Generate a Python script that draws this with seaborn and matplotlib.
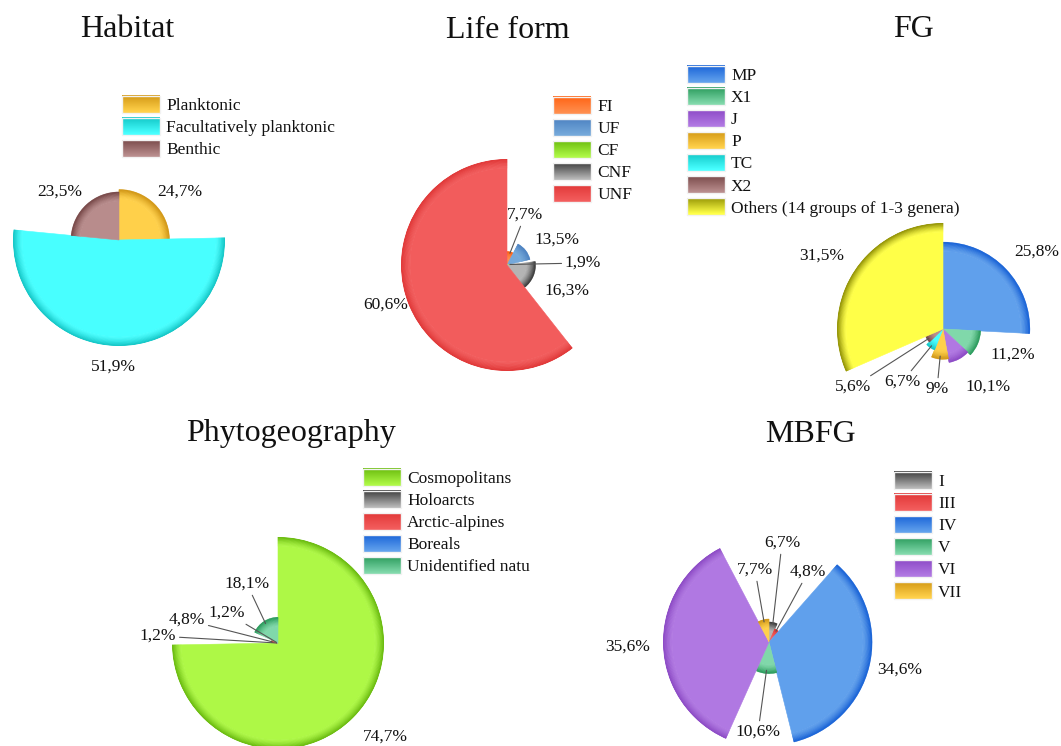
import numpy as np
import matplotlib
matplotlib.use("Agg")
import matplotlib.pyplot as plt
from matplotlib.colors import to_rgb
from matplotlib.patches import Rectangle
from matplotlib.legend_handler import HandlerBase
from matplotlib.transforms import Bbox, TransformedBbox
import seaborn as sns

# ---------------- data ----------------
habitat_labels = ["Planktonic", "Facultatively planktonic", "Benthic"]
habitat_values = [24.7, 51.9, 23.5]

lifeform_labels = ["FI", "UF", "CF", "CNF", "UNF"]
lifeform_values = [7.7, 13.5, 1.9, 16.3, 60.6]

fg_labels = ["MP", "X1", "J", "P", "TC", "X2", "Others (14 groups of 1-3 genera)"]
fg_values = [25.8, 11.2, 10.1, 9.0, 6.7, 5.6, 31.5]

phyto_labels = ["Cosmopolitans", "Holoarcts", "Arctic-alpines", "Boreals",
                "Unidentified nature"]
phyto_values = [74.7, 1.2, 4.8, 1.2, 18.1]

mbfg_labels = ["I", "III", "IV", "V", "VI", "VII"]
mbfg_values = [6.7, 4.8, 34.6, 10.6, 35.6, 7.7]

# ---------------- styles ----------------
# (dark rim colour, light body colour)
GOLD = ("#D09512", "#FFD04A")
CYAN = ("#0FC4C4", "#48FFFF")
ROSE = ("#744444", "#B88C8C")
ORANGE = ("#FF6010", "#FF8E4E")
STEEL = ("#4A80C0", "#74A8DA")
LIME = ("#66B80A", "#AEF846")
GREY = ("#353535", "#B4B4B4")
RED = ("#E03434", "#F25C5C")
BLUE = ("#145FD6", "#60A0EC")
GREEN = ("#269858", "#80D8AA")
PURPLE = ("#8A46C4", "#B078E2")
OLIVE = ("#8E8E00", "#FFFF48")

habitat_colors = [GOLD, CYAN, ROSE]
lifeform_colors = [ORANGE, STEEL, LIME, GREY, RED]
fg_colors = [BLUE, GREEN, PURPLE, GOLD, CYAN, ROSE, OLIVE]
phyto_colors = [LIME, GREY, RED, BLUE, GREEN]
mbfg_colors = [GREY, RED, BLUE, GREEN, PURPLE, GOLD]

sns.set_theme(style="white")
plt.rcParams["font.family"] = ["Liberation Serif", "DejaVu Serif"]

W, H = 1061, 746
DPI = 100
R = 106          # radius (px) of the largest slice in every pie
FS = 12.5        # label / legend font size

fig = plt.figure(figsize=(W / DPI, H / DPI), dpi=DPI)
fig.patch.set_facecolor("white")


def mix(a, b, t):
    return tuple(np.array(to_rgb(a)) * (1 - t) + np.array(to_rgb(b)) * t)


def pct(v):
    return f"{v:g}".replace(".", ",") + "%"


class GradientHandler(HandlerBase):
    """Legend key drawn as a vertical dark-to-light gradient box."""

    def create_artists(self, legend, orig_handle, xdescent, ydescent,
                       width, height, fontsize, trans):
        dark, light = orig_handle.grad
        n = 16
        arts = []
        x0, y0 = -xdescent, -ydescent
        for i in range(n):
            t = 0.12 + 0.88 * i / (n - 1)
            yb = y0 + height * (1 - (i + 1) / n)
            arts.append(Rectangle((x0, yb), width, height / n + 0.4,
                                  facecolor=mix(dark, light, t),
                                  edgecolor="none", transform=trans))
        arts.append(Rectangle((x0, y0), width, height, fill=False,
                              edgecolor="#f2f2f2", lw=1.0, transform=trans))
        return arts


def draw_chart(title, title_xy, center, labels, values, colors,
               label_offsets, leaders, legend_xy, clip_x=None):
    cx, cy = center
    ax = fig.add_axes([(cx - R) / W, (H - cy - R) / H, 2 * R / W, 2 * R / H],
                      projection="polar")
    ax.set_theta_zero_location("N")
    ax.set_theta_direction(-1)
    vals = np.asarray(values, dtype=float)
    widths = vals / vals.sum() * 2 * np.pi
    starts = np.concatenate([[0.0], np.cumsum(widths)[:-1]])
    vmax = vals.max()
    nring = 12
    for s, w, v, (dark, light) in zip(starts, widths, vals, colors):
        rim = min(0.085 * vmax, 0.55 * v)
        # light body of the slice
        body = v - rim
        ax.bar(s, body, width=w, bottom=0.0, align="edge",
               color=light, edgecolor=light, linewidth=0.4)
        # rings shading towards a darker rim
        for k in range(nring):
            lo = body + rim * k / nring
            col = mix(light, dark, ((k + 0.5) / nring) ** 1.4)
            ax.bar(s, rim / nring, width=w, bottom=lo, align="edge",
                   color=col, edgecolor=col, linewidth=0.4)
    ax.set_ylim(0, vmax)
    ax.axis("off")

    # value labels (with leader lines for the small slices)
    for s, w, v, (dx, dy), lead in zip(starts, widths, vals,
                                         label_offsets, leaders):
        fx = 0.5 + dx / (2 * R)
        fy = 0.5 - dy / (2 * R)
        if lead:
            ax.annotate(pct(v), xy=(s + w / 2, v * 0.9), xycoords="data",
                        xytext=(fx, fy), textcoords="axes fraction",
                        ha="center", va="center", fontsize=FS,
                        color="#111111", annotation_clip=False,
                        arrowprops=dict(arrowstyle="-", color="#555555",
                                        lw=0.8, shrinkA=0, shrinkB=0))
        else:
            ax.text(fx, fy, pct(v), transform=ax.transAxes, ha="center",
                    va="center", fontsize=FS, color="#111111")

    fig.text(title_xy[0] / W, 1 - title_xy[1] / H, title, ha="center",
             va="baseline", fontsize=23, color="#111111")

    handles = []
    for (dark, light) in colors:
        h = Rectangle((0, 0), 1, 1)
        h.grad = (dark, light)
        handles.append(h)
    leg = fig.legend(handles, labels, loc="upper left",
                     bbox_to_anchor=(legend_xy[0] / W, 1 - legend_xy[1] / H),
                     frameon=False, fontsize=FS, handlelength=2.19,
                     handleheight=1.1, handletextpad=0.35,
                     labelspacing=0.22, borderpad=0, borderaxespad=0,
                     handler_map={h: GradientHandler() for h in handles})
    for t in leg.get_texts():
        t.set_color("#111111")
        if clip_x is not None:
            t.set_clip_box(TransformedBbox(Bbox([[0, 0], [clip_x / W, 1]]),
                                           fig.transFigure))
            t.set_clip_on(True)


draw_chart("Habitat", (127, 37), (119, 240), habitat_labels, habitat_values,
           habitat_colors,
           [(61, -48), (-6, 127), (-59, -48)],
           [False, False, False], (122, 96))

draw_chart("Life form", (508, 38), (507, 265), lifeform_labels,
           lifeform_values, lifeform_colors,
           [(18, -50), (50, -25), (76, -2), (60, 26), (-121, 40)],
           [True, False, True, False, False], (553, 97))

draw_chart("FG", (913, 37), (943, 329), fg_labels, fg_values, fg_colors,
           [(94, -77), (70, 26), (45, 58), (-6, 60), (-41, 53), (-90, 58),
            (-121, -73)],
           [False, False, False, True, True, True, False], (687, 66))

draw_chart("Phytogeography", (291, 441), (278, 643), phyto_labels,
           phyto_values, phyto_colors,
           [(107, 94), (-120, -7), (-91, -23), (-51, -30), (-31, -59)],
           [False, True, True, True, True], (363, 469), clip_x=530)

draw_chart("MBFG", (810, 442), (769, 642), mbfg_labels, mbfg_values,
           mbfg_colors,
           [(13, -99), (39, -70), (131, 28), (-11, 90), (-141, 5), (-14, -72)],
           [True, True, False, True, False, True], (894, 472))

fig.savefig("out.png", dpi=DPI, facecolor="white")
